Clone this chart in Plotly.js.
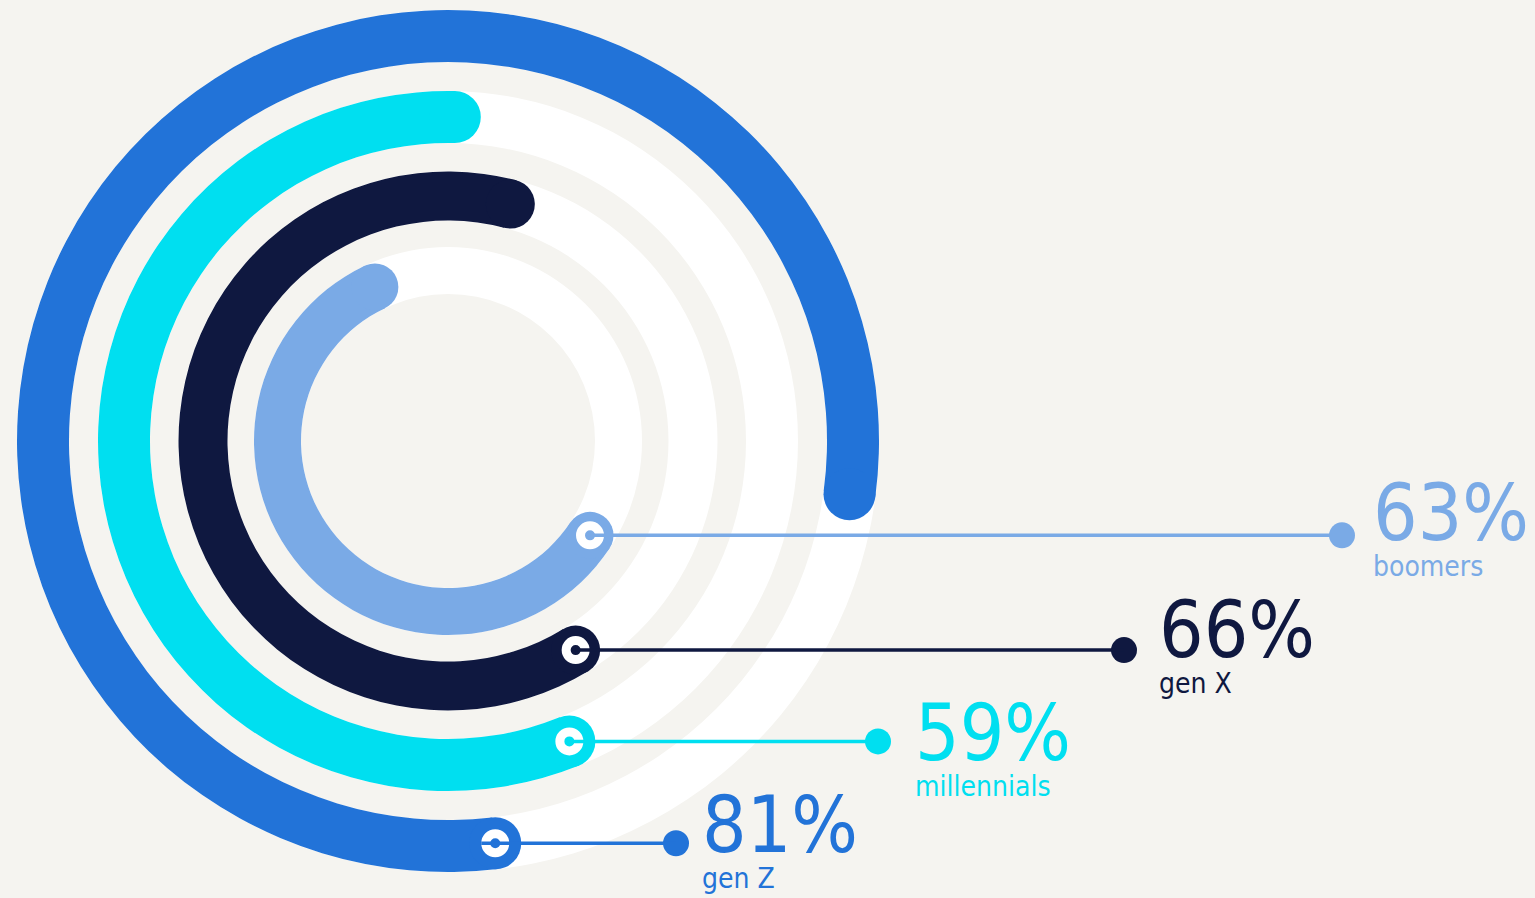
<!DOCTYPE html>
<html>
<head>
<meta charset="utf-8">
<script src="https://cdn.plot.ly/plotly-3.0.1.min.js"></script>
<style>
  html, body { margin: 0; padding: 0; background: #F5F4F0; }
  #chart { width: 1535px; height: 898px; }
</style>
</head>
<body>
<div id="chart"></div>
<script>
// ---- data ----
const categories = ['boomers', 'gen X', 'millennials', 'gen Z'];
const values = [63, 66, 59, 81];
const valueLabels = ['63%', '66%', '59%', '81%'];
const colors = ['#7AAAE6', '#0F1840', '#00DFF0', '#2273D8'];

// ---- layout / geometry (positions, not data) ----
const W = 1535, H = 898;
const CX = 448, CY = 441, R = 440;           // ring centre and polar radius in px
const ringRadius = [170.5, 245, 324, 405];   // centre-line radius of each ring
const ringWidth = [47, 49, 52, 52];          // thickness of each ring
const startAngle = [123.6, 148.6, 158, 173.3]; // compass angle of the start cap centre
const dotX = [1342, 1124, 878, 676];          // leader end dot x (px)
const textX = [1371, 1157, 913, 700];         // label left x (px)
const bigBaseline = [540, 657, 760, 852];     // baseline of the percentage (px)
const lineStartExtra = [0, 0, 0, 14];         // leader line extends left of the start point
const FONT = 'DejaVu Sans Condensed, DejaVu Sans, sans-serif';
const BIG = 78, SMALL = 28;
const ASC = 0.928, DESC = 0.236, LINE_SP = 1.3;

const deg = Math.PI / 180;
const n = categories.length;

// derived arc geometry
const capAngle = ringRadius.map((r, i) => (ringWidth[i] / 2) / r / deg);
const span = values.map((v, i) => v / 100 * 360 - 2 * capAngle[i]);
const endAngle = startAngle.map((s, i) => s + span[i]);

const traces = [];

// white tracks
traces.push({
  type: 'barpolar',
  r: ringWidth,
  base: ringRadius.map((r, i) => r - ringWidth[i] / 2),
  theta: ringRadius.map(() => 180),
  width: ringRadius.map(() => 360),
  marker: { color: '#FFFFFF', line: { width: 0 } },
  hoverinfo: 'skip'
});

// coloured arcs
traces.push({
  type: 'barpolar',
  r: ringWidth,
  base: ringRadius.map((r, i) => r - ringWidth[i] / 2),
  theta: startAngle.map((s, i) => s + span[i] / 2),
  width: span,
  marker: { color: colors, line: { width: 0 } },
  text: categories,
  hoverinfo: 'skip'
});

// rounded caps
for (let i = 0; i < n; i++) {
  traces.push({
    type: 'scatterpolar',
    mode: 'markers',
    r: [ringRadius[i], ringRadius[i]],
    theta: [startAngle[i], endAngle[i]],
    marker: { size: ringWidth[i], color: colors[i], line: { width: 0 } },
    hoverinfo: 'skip'
  });
}

// white ring marker at the start
traces.push({
  type: 'scatterpolar',
  mode: 'markers',
  r: ringRadius,
  theta: startAngle,
  marker: { size: 19, color: colors, line: { width: 9, color: '#FFFFFF' } },
  hoverinfo: 'skip'
});

// leader end dots (cartesian overlay, 1 unit = 1 px, origin at ring centre)
const lineY = startAngle.map((s, i) => ringRadius[i] * Math.cos(s * deg));
const startX = startAngle.map((s, i) => ringRadius[i] * Math.sin(s * deg));
traces.push({
  type: 'scatter',
  mode: 'markers',
  x: dotX.map(x => x - CX),
  y: lineY,
  marker: { size: 26, color: colors, line: { width: 0 } },
  hoverinfo: 'skip',
  xaxis: 'x', yaxis: 'y'
});

const shapes = [];
for (let i = 0; i < n; i++) {
  shapes.push({
    type: 'line', xref: 'x', yref: 'y', layer: 'above',
    x0: startX[i] - lineStartExtra[i], y0: lineY[i],
    x1: dotX[i] - CX, y1: lineY[i],
    line: { color: colors[i], width: 3.5 }
  });
}

// one two-line annotation per category: big percentage, then category name
const midOffset = (ASC * BIG - LINE_SP * SMALL - DESC * SMALL) / 2;
const annotations = [];
for (let i = 0; i < n; i++) {
  annotations.push({
    xref: 'x', yref: 'y', xanchor: 'left', yanchor: 'middle', align: 'left',
    x: textX[i] - CX, y: CY - (bigBaseline[i] - midOffset),
    text: '<span style="font-size:' + BIG + 'px">' + valueLabels[i] + '</span><br>' + categories[i],
    showarrow: false,
    font: { family: FONT, size: SMALL, color: colors[i] }
  });
}

const layout = {
  width: W, height: H,
  margin: { l: 0, r: 0, t: 0, b: 0, pad: 0 },
  paper_bgcolor: '#F5F4F0',
  plot_bgcolor: 'rgba(0,0,0,0)',
  showlegend: false,
  hovermode: false,
  xaxis: { range: [-CX, W - CX], visible: false, fixedrange: true, domain: [0, 1] },
  yaxis: { range: [-(H - CY), CY], visible: false, fixedrange: true, domain: [0, 1] },
  polar: {
    domain: { x: [(CX - R) / W, (CX + R) / W], y: [(H - CY - R) / H, (H - CY + R) / H] },
    bgcolor: 'rgba(0,0,0,0)',
    barmode: 'overlay',
    bargap: 0,
    hole: 0,
    radialaxis: { range: [0, R], visible: false },
    angularaxis: { rotation: 90, direction: 'clockwise', visible: false }
  },
  shapes: shapes,
  annotations: annotations
};

Plotly.newPlot('chart', traces, layout, { displayModeBar: false, staticPlot: true });
</script>
</body>
</html>
